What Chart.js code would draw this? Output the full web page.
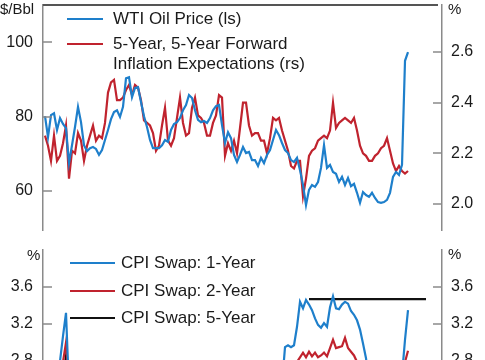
<!DOCTYPE html>
<html><head><meta charset="utf-8">
<script src="https://cdn.jsdelivr.net/npm/chart.js@4.4.1/dist/chart.umd.min.js"></script>
<style>
html,body{margin:0;padding:0;background:#fff;overflow:hidden;width:485px;height:360px;position:relative}
#c1{position:absolute;left:0;top:0}
#c2{position:absolute;left:0;top:245px}
</style></head><body>
<canvas id="c1" width="485" height="235"></canvas>
<canvas id="c2" width="485" height="232"></canvas>
<script>
// ---------- DATA (weekly observations, index = week number) ----------
const _ = null;
// WTI oil price, $/Bbl (left scale)
const wtiOil = [80.1,74.5,80.4,80.9,76.4,79.6,78.0,76.9,67.5,72.3,
 77.2,82.6,78.5,72.3,70.7,71.5,71.8,71.3,69.7,71.0,
 73.7,76.4,79.3,81.2,81.7,79.9,82.6,90.3,90.6,85.2,
 87.7,87.9,83.9,80.1,77.2,73.7,71.5,71.5,71.5,72.3,
 73.7,73.2,76.4,78.0,78.5,79.6,81.7,83.1,85.8,85.0,
 81.7,79.1,78.5,78.8,78.3,79.6,81.7,82.8,83.1,77.7,
 72.9,75.8,74.2,69.7,67.8,69.7,71.8,70.2,70.5,68.3,
 68.3,66.7,68.9,67.5,69.7,71.0,73.7,76.4,75.0,72.9,
 71.0,70.2,68.3,67.8,68.9,65.6,61.6,56.2,60.3,61.6,
 61.1,62.4,66.2,72.3,66.2,67.0,65.1,64.6,62.4,63.8,
 61.6,63.5,61.3,61.9,59.5,56.8,59.7,58.9,58.4,59.5,
 58.1,57.0,56.8,57.0,57.6,59.5,63.8,65.1,64.3,67.0,
 95.0,97.3];
// 5-year, 5-year forward inflation expectations, % (right scale)
const fiveYFiveY = [2.27,2.23,2.17,2.27,2.17,2.19,2.24,2.31,2.10,2.21,
 2.20,2.28,2.25,2.17,2.23,2.27,2.31,2.25,2.27,2.26,
 2.32,2.44,2.48,2.49,2.41,2.41,2.42,2.45,2.47,2.43,
 2.47,2.46,2.41,2.33,2.32,2.31,2.28,2.21,2.23,2.31,
 2.38,2.25,2.23,2.26,2.34,2.42,2.32,2.27,2.28,2.38,
 2.42,2.35,2.34,2.32,2.27,2.27,2.32,2.35,2.43,2.42,
 2.19,2.24,2.21,2.25,2.20,2.30,2.40,2.40,2.31,2.27,
 2.28,2.28,2.25,2.25,2.20,2.26,2.34,2.33,2.34,2.29,
 2.25,2.21,2.15,2.14,2.17,2.17,2.03,2.10,2.19,2.21,
 2.22,2.25,2.26,2.27,2.26,2.29,2.40,2.30,2.32,2.33,
 2.34,2.33,2.32,2.34,2.29,2.23,2.20,2.19,2.17,2.17,
 2.19,2.20,2.22,2.23,2.26,2.21,2.16,2.13,2.15,2.13,
 2.12,2.13];
// CPI swaps, % (only the part inside the visible window is read)
const cpiSwap1y = [_,_,_,_,2.45,2.80,3.07,3.32,2.49,_,
 _,_,_,_,_,_,_,_,_,_, _,_,_,_,_,_,_,_,_,_,
 _,_,_,_,_,_,_,_,_,_, _,_,_,_,_,_,_,_,_,_,
 _,_,_,_,_,_,_,_,_,_, _,_,_,_,_,_,_,_,_,_,
 _,_,_,_,_,_,_,_,_,2.55,
 2.95,2.97,2.95,2.97,3.17,3.44,3.37,3.46,3.41,3.35,
 3.26,3.19,3.16,3.21,3.17,3.38,3.50,3.37,3.36,3.41,
 3.44,3.42,3.34,3.30,3.24,3.14,2.99,2.83,2.55,_,
 _,_,_,_,_,_,_,_,_,2.65,
 3.03,3.35];
const cpiSwap2y = [_,_,_,_,_,2.50,2.79,3.00,2.54,_,
 _,_,_,_,_,_,_,_,_,_, _,_,_,_,_,_,_,_,_,_,
 _,_,_,_,_,_,_,_,_,_, _,_,_,_,_,_,_,_,_,_,
 _,_,_,_,_,_,_,_,_,_, _,_,_,_,_,_,_,_,_,_,
 _,_,_,_,_,_,_,_,_,_,
 _,_,_,2.60,2.79,2.84,2.89,2.84,2.90,2.85,
 2.89,2.84,2.86,2.89,2.85,2.94,3.03,2.94,2.95,2.96,
 3.05,2.94,2.90,2.86,2.79,2.60,_,_,_,_,
 _,_,_,_,_,_,_,_,_,2.60,
 2.79,2.91];
const cpiSwap5y = [_,_,_,_,_,_,2.60,2.85,2.55,_,
 _,_,_,_,_,_,_,_,_,_, _,_,_,_,_,_,_,_,_,_,
 _,_,_,_,_,_,_,_,_,_, _,_,_,_,_,_,_,_,_,_,
 _,_,_,_,_,_,_,_,_,_, _,_,_,_,_,_,_,_,_,_,
 _,_,_,_,_,_,_,_,_,_,
 _,_,_,_,_,_,_,_,3.47,_,
 _,_,_,_,_,_,_,_,_,_, _,_,_,_,_,_,_,_,_,_,
 _,_,_,_,_,_,_,_,_,_, _,_,_,_,_,_,_,3.47];

const oilTicks = [60, 80, 100];
const inflTicks = [2.0, 2.2, 2.4, 2.6];
const swapTicks = [2.0, 2.4, 2.8, 3.2, 3.6];

const topLegend = [
  {label: ['WTI Oil Price (ls)'], color: 'blue'},
  {label: ['5-Year, 5-Year Forward', 'Inflation Expectations (rs)'], color: 'red'}
];
const botLegend = [
  {label: ['CPI Swap: 1-Year'], color: 'blue'},
  {label: ['CPI Swap: 2-Year'], color: 'red'},
  {label: ['CPI Swap: 5-Year'], color: 'black'}
];

// ---------- STYLE ----------
const FONT = "'Liberation Sans', Arial, sans-serif";
const COLORS = {blue: '#1e7fcb', red: '#c0232e', black: '#111111'};
const AXIS = '#8a8a8a';
const TXT = '#1a1a1a';

const pts = arr => arr.map((v, i) => ({x: i, y: v}));
const ptsNoGaps = arr => pts(arr).filter(p => p.y !== null);

function yAxis(pos, min, max, tickVals, fmt, pad) {
  return {
    type: 'linear', position: pos, min: min, max: max,
    afterBuildTicks: s => { s.ticks = tickVals.map(v => ({value: v})); },
    afterFit: s => { s.width = 43; s.paddingTop = 0; s.paddingBottom = 0; },
    grid: {display: false, drawTicks: false},
    border: {display: true, color: AXIS, width: 1.5},
    ticks: {padding: pad, color: TXT, font: {family: FONT, size: 16}, callback: fmt}
  };
}

const framePlugin = {
  id: 'frame',
  afterDraw(chart, args, o) {
    const ctx = chart.ctx, a = chart.chartArea;
    ctx.save();
    ctx.strokeStyle = AXIS; ctx.lineWidth = 1.5;
    ['yL', 'yR'].forEach(id => {
      const s = chart.scales[id];
      s.ticks.forEach(t => {
        const y = Math.round(s.getPixelForValue(t.value));
        ctx.beginPath();
        if (id === 'yL') { ctx.moveTo(a.left, y); ctx.lineTo(a.left + 9, y); }
        else { ctx.moveTo(a.right - 9, y); ctx.lineTo(a.right, y); }
        ctx.stroke();
      });
    });
    if (o.topLine) {
      ctx.strokeStyle = '#555555'; ctx.lineWidth = 2;
      ctx.beginPath(); ctx.moveTo(a.left, a.top); ctx.lineTo(a.right - 4, a.top); ctx.stroke();
    }
    // legend
    ctx.font = '17px ' + FONT; ctx.fillStyle = TXT; ctx.textBaseline = 'middle'; ctx.textAlign = 'left';
    o.legend.forEach((e, k) => {
      const y = o.legendY[k];
      ctx.strokeStyle = COLORS[e.color]; ctx.lineWidth = 2;
      ctx.beginPath(); ctx.moveTo(o.lineX[0], y); ctx.lineTo(o.lineX[1], y); ctx.stroke();
      e.label.forEach((t, j) => ctx.fillText(t, o.textX, y + j * 20));
    });
    // axis titles
    ctx.font = '15px ' + FONT;
    o.titles.forEach(t => ctx.fillText(t.text, t.x, t.y));
    ctx.restore();
  }
};

const common = {
  responsive: false, animation: false, devicePixelRatio: 1,
  layout: {padding: {top: 5, bottom: 5, left: 0, right: 0}},
  elements: {point: {radius: 0}, line: {tension: 0, borderWidth: 2.2}},
  plugins: {legend: {display: false}, tooltip: {enabled: false}}
};
const xScale = {type: 'linear', min: -0.667, max: 132.33, display: false};

new Chart(document.getElementById('c1'), {
  type: 'line',
  data: {datasets: [
    {data: pts(wtiOil), borderColor: COLORS.blue, yAxisID: 'yL'},
    {data: pts(fiveYFiveY), borderColor: COLORS.red, yAxisID: 'yR'}
  ]},
  options: Object.assign({}, common, {
    scales: {
      x: xScale,
      yL: yAxis('left', 49.5, 110, oilTicks, v => String(v), 10),
      yR: yAxis('right', 1.897, 2.786, inflTicks, v => v.toFixed(1), 9)
    },
    plugins: Object.assign({}, common.plugins, {frame: {
      topLine: true, legend: topLegend, legendY: [19, 44], lineX: [67, 103], textX: 113,
      titles: [{text: '$/Bbl', x: 0, y: 10}, {text: '%', x: 448, y: 10}]
    }})
  }),
  plugins: [framePlugin]
});

new Chart(document.getElementById('c2'), {
  type: 'line',
  data: {datasets: [
    {data: pts(cpiSwap1y), borderColor: COLORS.blue, yAxisID: 'yL', spanGaps: false},
    {data: pts(cpiSwap2y), borderColor: COLORS.red, yAxisID: 'yL', spanGaps: false},
    {data: ptsNoGaps(cpiSwap5y), borderColor: COLORS.black, yAxisID: 'yL', spanGaps: 45}
  ]},
  options: Object.assign({}, common, {
    scales: {
      x: xScale,
      yL: yAxis('left', 1.6, 4.0, swapTicks, v => v.toFixed(1), 10),
      yR: yAxis('right', 1.6, 4.0, swapTicks, v => v.toFixed(1), 9)
    },
    plugins: Object.assign({}, common.plugins, {frame: {
      topLine: false, legend: botLegend, legendY: [18, 46, 73], lineX: [70, 115], textX: 121,
      titles: [{text: '%', x: 27, y: 11}, {text: '%', x: 448, y: 10}]
    }})
  }),
  plugins: [framePlugin]
});
</script>
</body></html>
